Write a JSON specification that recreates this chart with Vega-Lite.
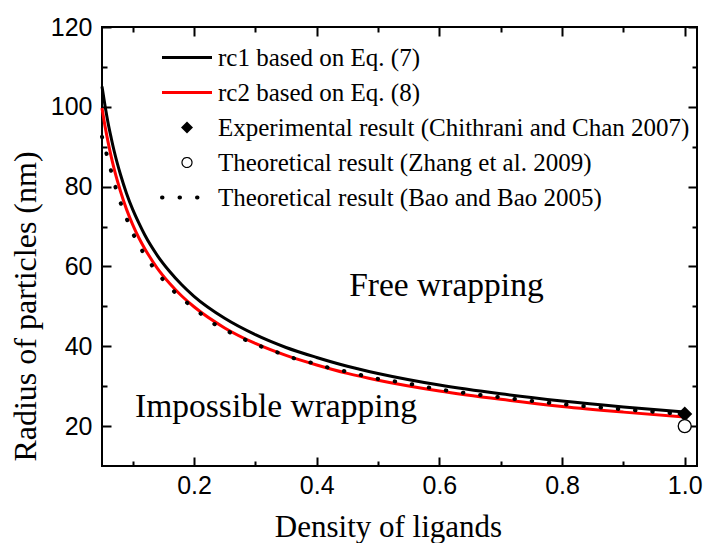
{
  "$schema": "https://vega.github.io/schema/vega-lite/v6.json",
  "width": 595,
  "height": 439,
  "autosize": {"type": "none"},
  "padding": {"left": 102, "top": 27, "right": 7, "bottom": 77},
  "background": "white",
  "config": {
    "view": {"stroke": "#000000", "strokeWidth": 2},
    "axis": {"domain": false, "ticks": false, "grid": true, "gridColor": "#000000", "gridWidth": 2, "gridOpacity": 1, "labelColor": "#000000", "titleColor": "#000000"}
  },
  "datasets": {
    "curves": [
      {"x": 0.05, "r": 105.1, "series": "c1"}, {"x": 0.055, "r": 100.2, "series": "c1"}, {"x": 0.06, "r": 95.9, "series": "c1"},
      {"x": 0.065, "r": 92.2, "series": "c1"}, {"x": 0.07, "r": 88.8, "series": "c1"}, {"x": 0.08, "r": 83.1, "series": "c1"},
      {"x": 0.09, "r": 78.3, "series": "c1"}, {"x": 0.1, "r": 74.3, "series": "c1"}, {"x": 0.11, "r": 70.9, "series": "c1"},
      {"x": 0.12, "r": 67.8, "series": "c1"}, {"x": 0.14, "r": 62.8, "series": "c1"}, {"x": 0.16, "r": 58.8, "series": "c1"},
      {"x": 0.18, "r": 55.4, "series": "c1"}, {"x": 0.2, "r": 52.5, "series": "c1"}, {"x": 0.25, "r": 47.0, "series": "c1"},
      {"x": 0.3, "r": 42.9, "series": "c1"}, {"x": 0.35, "r": 39.7, "series": "c1"}, {"x": 0.4, "r": 37.2, "series": "c1"},
      {"x": 0.45, "r": 35.0, "series": "c1"}, {"x": 0.5, "r": 33.2, "series": "c1"}, {"x": 0.6, "r": 30.3, "series": "c1"},
      {"x": 0.7, "r": 28.1, "series": "c1"}, {"x": 0.8, "r": 26.3, "series": "c1"}, {"x": 0.9, "r": 24.8, "series": "c1"},
      {"x": 1.0, "r": 23.5, "series": "c1"},
      {"x": 0.05, "r": 99.7, "series": "c2"}, {"x": 0.055, "r": 95.1, "series": "c2"}, {"x": 0.06, "r": 91.1, "series": "c2"},
      {"x": 0.065, "r": 87.5, "series": "c2"}, {"x": 0.07, "r": 84.3, "series": "c2"}, {"x": 0.08, "r": 78.9, "series": "c2"},
      {"x": 0.09, "r": 74.3, "series": "c2"}, {"x": 0.1, "r": 70.5, "series": "c2"}, {"x": 0.11, "r": 67.2, "series": "c2"},
      {"x": 0.12, "r": 64.4, "series": "c2"}, {"x": 0.14, "r": 59.6, "series": "c2"}, {"x": 0.16, "r": 55.8, "series": "c2"},
      {"x": 0.18, "r": 52.6, "series": "c2"}, {"x": 0.2, "r": 49.9, "series": "c2"}, {"x": 0.25, "r": 44.6, "series": "c2"},
      {"x": 0.3, "r": 40.7, "series": "c2"}, {"x": 0.35, "r": 37.7, "series": "c2"}, {"x": 0.4, "r": 35.3, "series": "c2"},
      {"x": 0.45, "r": 33.2, "series": "c2"}, {"x": 0.5, "r": 31.5, "series": "c2"}, {"x": 0.6, "r": 28.8, "series": "c2"},
      {"x": 0.7, "r": 26.7, "series": "c2"}, {"x": 0.8, "r": 24.9, "series": "c2"}, {"x": 0.9, "r": 23.5, "series": "c2"},
      {"x": 1.0, "r": 22.3, "series": "c2"},
      {"x": 0.05, "r": 92.5, "series": "bao"}, {"x": 0.0538, "r": 90.4, "series": "bao"}, {"x": 0.0603, "r": 86.5, "series": "bao"},
      {"x": 0.0675, "r": 82.4, "series": "bao"}, {"x": 0.0756, "r": 78.0, "series": "bao"}, {"x": 0.0859, "r": 73.7, "series": "bao"},
      {"x": 0.0968, "r": 69.5, "series": "bao"}, {"x": 0.1104, "r": 65.3, "series": "bao"}, {"x": 0.1272, "r": 61.2, "series": "bao"},
      {"x": 0.149, "r": 56.8, "series": "bao"}, {"x": 0.1745, "r": 52.7, "series": "bao"}, {"x": 0.2006, "r": 49.5, "series": "bao"},
      {"x": 0.229, "r": 46.0, "series": "bao"}, {"x": 0.256, "r": 43.7, "series": "bao"}, {"x": 0.284, "r": 41.6, "series": "bao"},
      {"x": 0.312, "r": 39.8, "series": "bao"}, {"x": 0.339, "r": 38.3, "series": "bao"}, {"x": 0.367, "r": 36.8, "series": "bao"},
      {"x": 0.396, "r": 35.7, "series": "bao"}, {"x": 0.423, "r": 34.5, "series": "bao"}, {"x": 0.45, "r": 33.6, "series": "bao"},
      {"x": 0.477, "r": 32.6, "series": "bao"}, {"x": 0.504, "r": 31.7, "series": "bao"}, {"x": 0.532, "r": 31.1, "series": "bao"},
      {"x": 0.6, "r": 29.2, "series": "bao"}, {"x": 0.7, "r": 27.2, "series": "bao"}, {"x": 0.8, "r": 25.5, "series": "bao"},
      {"x": 0.9, "r": 24.2, "series": "bao"}, {"x": 1.0, "r": 23.0, "series": "bao"}
    ],
    "experiment": [{"x": 1.0, "r": 23.0, "series": "exp"}],
    "zhang": [{"x": 1.0, "r": 20.0, "series": "zhang"}],
    "notes": [
      {"x": 0.453, "r": 52.7, "label": "Free wrapping"},
      {"x": 0.104, "r": 22.3, "label": "Impossible wrapping"}
    ]
  },
  "encoding": {
    "x": {
      "field": "x", "type": "quantitative",
      "scale": {"domain": [0.05, 1.02], "nice": false, "zero": false},
      "axis": {
        "orient": "bottom",
        "values": [0.1, 0.2, 0.3, 0.4, 0.5, 0.6, 0.7, 0.8, 0.9, 1.0],
        "labelExpr": "round(datum.value*10)%2==0 ? format(datum.value, '.1f') : ''",
        "gridDash": {"condition": {"test": "round(datum.value*10)%2==0", "value": [9, 421, 9, 1000]}, "value": [5, 429, 5, 1000]},
        "labelPadding": 7, "labelFont": "Liberation Sans", "labelFontSize": 25,
        "labelFlush": false, "labelOverlap": false,
        "title": "Density of ligands", "titleFont": "Liberation Serif", "titleFontSize": 31,
        "titleFontWeight": "normal", "titleX": 286, "titleY": 70.7, "titleAlign": "center", "titleBaseline": "alphabetic"
      }
    },
    "y": {
      "field": "r", "type": "quantitative",
      "scale": {"domain": [10, 120], "nice": false, "zero": false},
      "axis": {
        "orient": "left",
        "values": [20, 30, 40, 50, 60, 70, 80, 90, 100, 110, 120],
        "labelExpr": "datum.value%20==0 ? datum.label : ''",
        "gridDash": {"condition": {"test": "datum.value%20==0", "value": [9, 577, 9, 1000]}, "value": [5, 585, 5, 1000]},
        "labelPadding": 10, "labelFont": "Liberation Sans", "labelFontSize": 25,
        "labelFlush": false, "labelOverlap": false,
        "title": "Radius of particles (nm)", "titleFont": "Liberation Serif", "titleFontSize": 32,
        "titleFontWeight": "normal", "titleAngle": 270, "titleX": -67, "titleY": 279, "titleAlign": "center", "titleBaseline": "alphabetic"
      }
    }
  },
  "layer": [
    {
      "data": {"name": "curves"},
      "transform": [{"filter": "datum.series != 'bao'"}],
      "mark": {"type": "line", "strokeWidth": 3, "interpolate": "monotone"},
      "encoding": {
        "color": {
          "field": "series", "type": "nominal",
          "scale": {"domain": ["c1", "c2", "exp", "zhang", "bao"], "range": ["#000000", "#ff0000", "#000000", "#000000", "#000000"]},
          "legend": {
            "orient": "none", "legendX": 60, "legendY": 18, "title": null, "padding": 0,
            "labelExpr": "datum.value=='c1' ? 'rc1 based on Eq. (7)' : datum.value=='c2' ? 'rc2 based on Eq. (8)' : datum.value=='exp' ? 'Experimental result (Chithrani and Chan 2007)' : datum.value=='zhang' ? 'Theoretical result (Zhang et al. 2009)' : 'Theoretical  result (Bao and Bao 2005)'",
            "labelFont": "Liberation Serif", "labelFontSize": 25, "labelColor": "#000000", "labelLimit": 0,
            "symbolSize": 400, "symbolType": "stroke", "symbolStrokeWidth": 3, "rowPadding": 9,
            "encode": {
              "symbols": {"update": {
                "x": {"value": 25},
                "shape": {"signal": "datum.value=='exp' ? 'diamond' : datum.value=='zhang' ? 'circle' : 'stroke'"},
                "size": {"signal": "datum.value=='exp' ? 144 : datum.value=='zhang' ? 100 : 2500"},
                "fill": {"signal": "datum.value=='exp' ? '#000000' : datum.value=='zhang' ? '#ffffff' : 'transparent'"},
                "stroke": {"signal": "datum.value=='c2' ? '#ff0000' : '#000000'"},
                "strokeWidth": {"signal": "datum.value=='exp' ? 0 : datum.value=='zhang' ? 1.2 : datum.value=='bao' ? 4 : 3"},
                "strokeDash": {"signal": "datum.value=='bao' ? [0.5, 17] : [1, 0]"},
                "strokeCap": {"signal": "datum.value=='bao' ? 'round' : 'butt'"},
                "opacity": {"value": 1}
              }},
              "labels": {"update": {"x": {"value": 56}}}
            }
          }
        }
      }
    },
    {
      "data": {"name": "curves"},
      "transform": [{"filter": "datum.series == 'bao'"}],
      "mark": {"type": "line", "strokeWidth": 4, "strokeDash": [0.5, 16.8], "strokeCap": "round", "interpolate": "monotone"},
      "encoding": {"color": {"field": "series", "type": "nominal"}}
    },
    {
      "data": {"name": "experiment"},
      "mark": {"type": "point", "shape": "diamond", "filled": true, "size": 225, "color": "#000000", "opacity": 1}
    },
    {
      "data": {"name": "zhang"},
      "mark": {"type": "point", "shape": "circle", "filled": false, "fill": "#ffffff", "stroke": "#000000", "strokeWidth": 1.3, "size": 169, "opacity": 1}
    },
    {
      "data": {"name": "notes"},
      "mark": {"type": "text", "font": "Liberation Serif", "fontSize": 33.5, "align": "left", "baseline": "alphabetic", "color": "#000000"},
      "encoding": {"text": {"field": "label"}}
    }
  ]
}
